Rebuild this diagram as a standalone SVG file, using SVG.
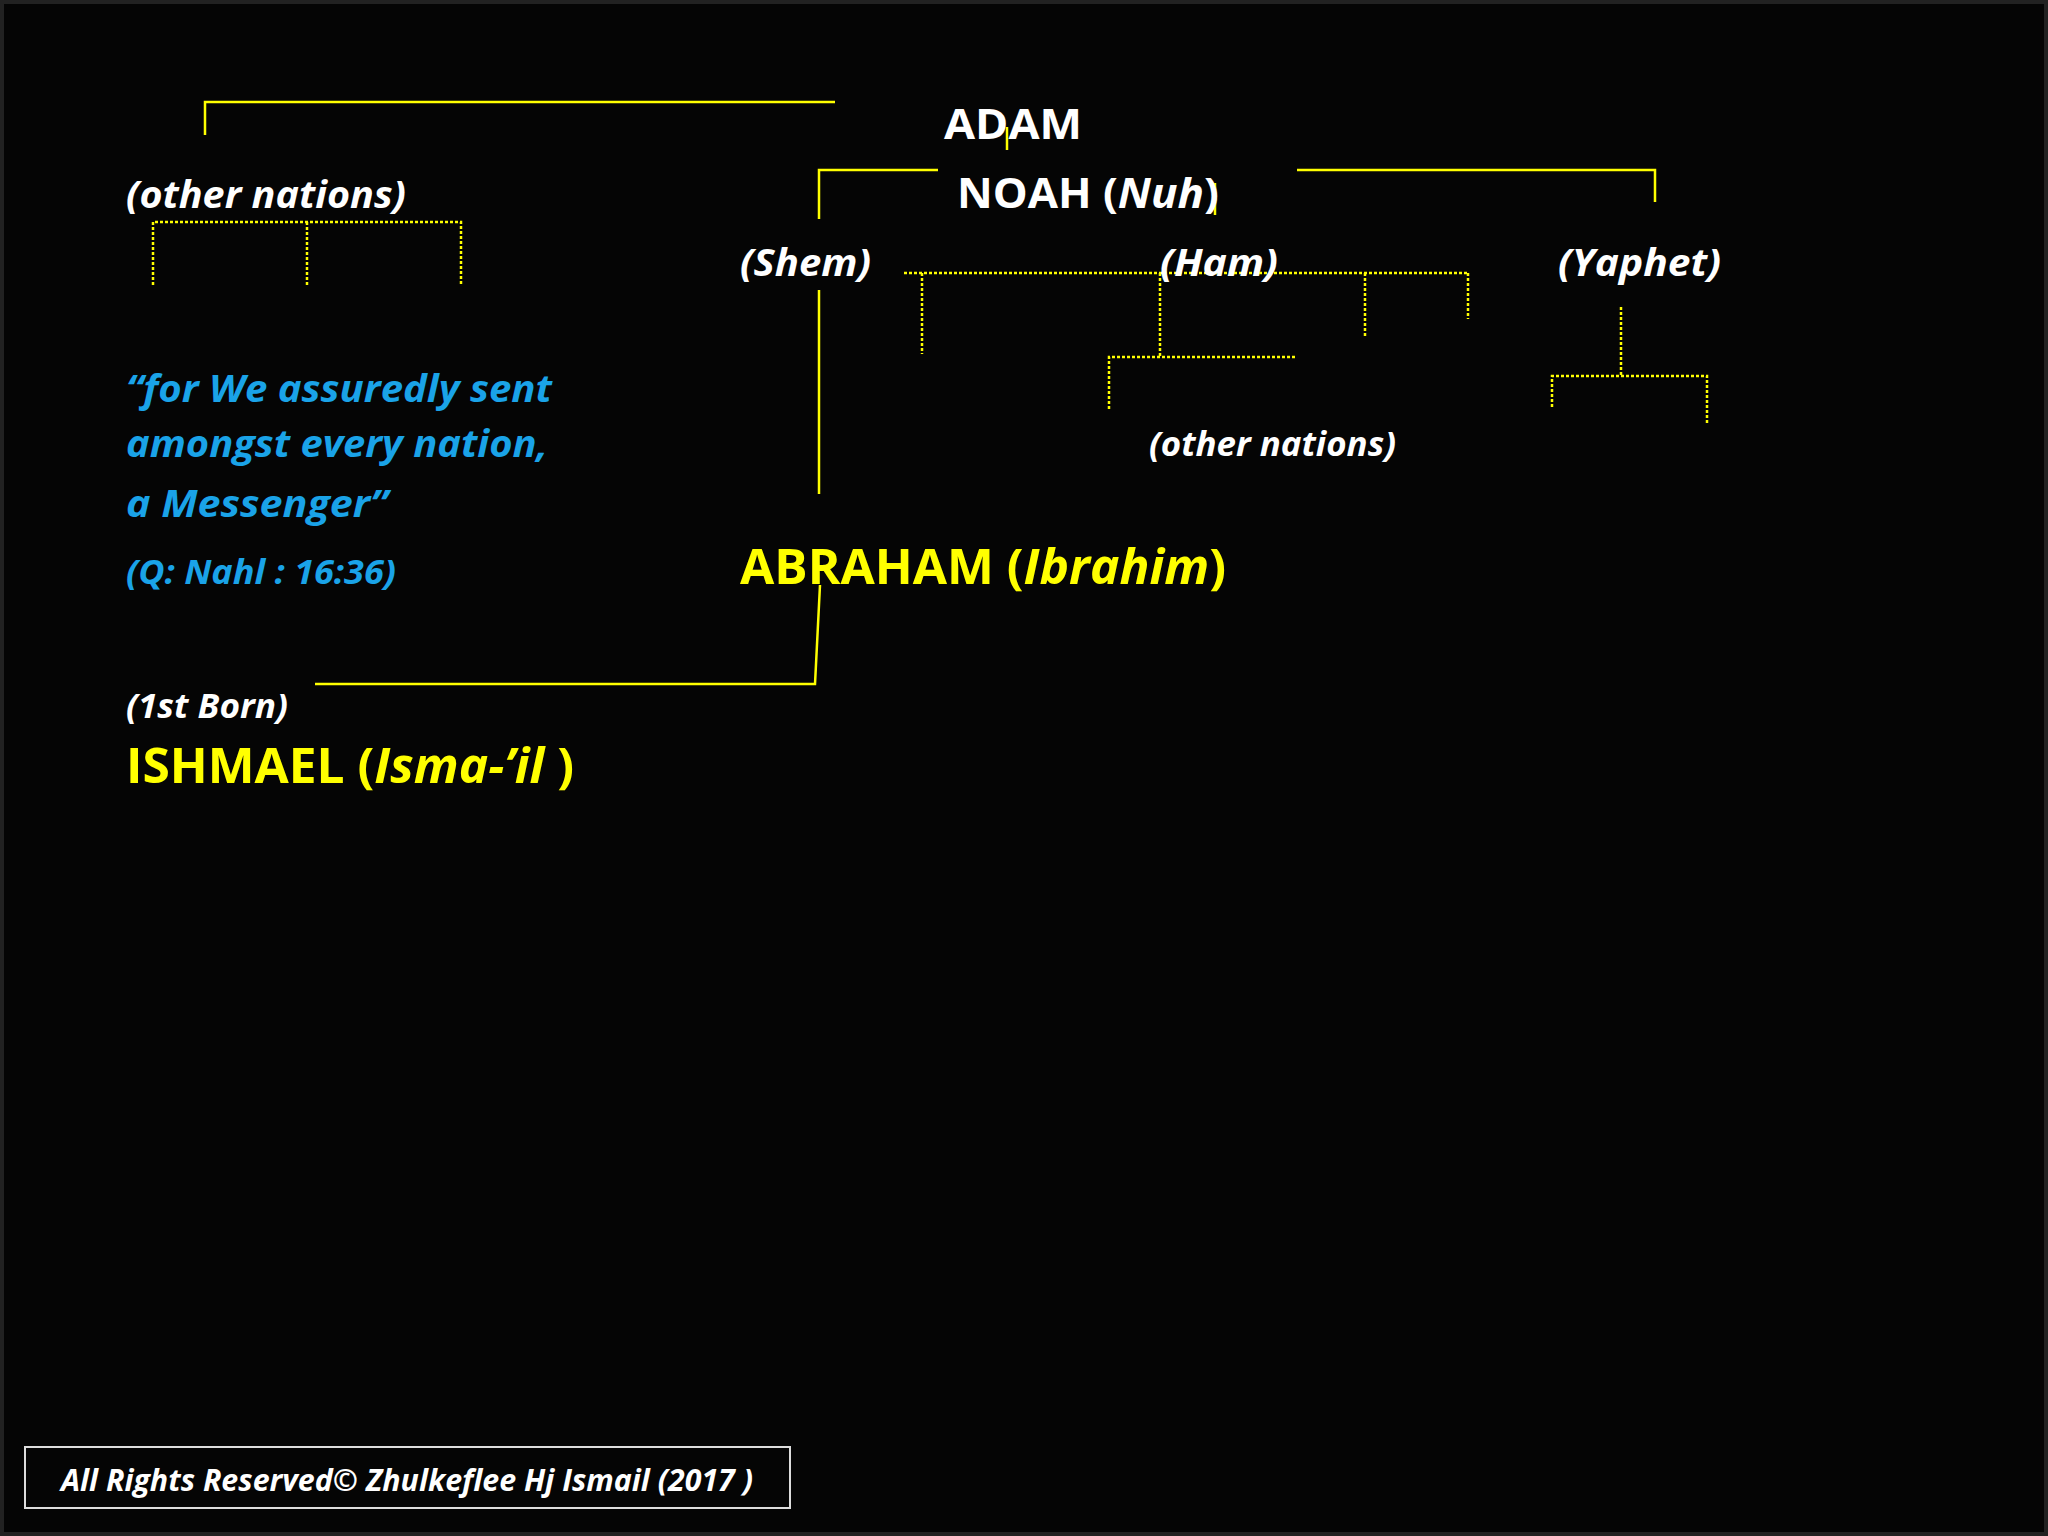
<svg xmlns="http://www.w3.org/2000/svg" width="2048" height="1536" viewBox="0 0 2048 1536">
<style>
text{font-family:"Open Sans",Lato,"Liberation Sans",sans-serif;font-weight:bold}
.w{fill:#fff}.y{fill:#ffff00}.b{fill:#1aa3e8;font-style:italic}
.i{font-style:italic}
.s{stroke:#ffff00;stroke-width:2.5;fill:none}
.d{stroke:#ffff00;stroke-width:2.5;fill:none;stroke-dasharray:3 2}
</style>
<rect width="2048" height="1536" fill="#050505"/>
<rect x="2" y="2" width="2044" height="1532" fill="none" stroke="#222" stroke-width="4"/>
<g id="connectors">
<polyline class="s" points="205,135 205,102 835,102"/>
<line class="s" x1="1007" y1="127" x2="1007" y2="150"/>
<polyline class="s" points="819,219 819,170 938,170"/>
<polyline class="s" points="1297,170 1655,170 1655,202"/>
<line class="s" x1="1215" y1="183" x2="1215" y2="215"/>
<polyline class="d" points="153,285 153,222 461,222 461,285"/>
<line class="d" x1="307" y1="222" x2="307" y2="285"/>
<line class="d" x1="904" y1="273" x2="1468" y2="273"/>
<line class="d" x1="922" y1="273" x2="922" y2="354"/>
<line class="d" x1="1365" y1="273" x2="1365" y2="337"/>
<line class="d" x1="1468" y1="273" x2="1468" y2="319"/>
<line class="d" x1="1160" y1="273" x2="1160" y2="357"/>
<polyline class="d" points="1109,409 1109,357 1297,357"/>
<line class="d" x1="1621" y1="307" x2="1621" y2="376"/>
<polyline class="d" points="1552,407 1552,376 1707,376 1707,423"/>
<line class="s" x1="819" y1="290" x2="819" y2="494"/>
<polyline class="s" points="820,585 815,684 315,684" stroke-width="3"/>
</g>
<g id="adam"><text class="w" x="944" y="139" font-size="42" textLength="138" lengthAdjust="spacingAndGlyphs">ADAM</text></g>
<g id="noah"><text class="w" x="957" y="208" font-size="42" textLength="262" lengthAdjust="spacingAndGlyphs">NOAH (<tspan class="i">Nuh</tspan>)</text></g>
<g id="other1"><text class="w i" x="126" y="208" font-size="38" textLength="280" lengthAdjust="spacingAndGlyphs">(other nations)</text></g>
<g id="shem"><text class="w i" x="740" y="276" font-size="38" textLength="131" lengthAdjust="spacingAndGlyphs">(Shem)</text></g>
<g id="ham"><text class="w i" x="1160" y="276" font-size="38" textLength="118" lengthAdjust="spacingAndGlyphs">(Ham)</text></g>
<g id="yaphet"><text class="w i" x="1558" y="276" font-size="38" textLength="163" lengthAdjust="spacingAndGlyphs">(Yaphet)</text></g>
<g id="other2"><text class="w i" x="1149" y="456" font-size="34" textLength="247" lengthAdjust="spacingAndGlyphs">(other nations)</text></g>
<g id="quote">
<text class="b" x="126" y="402" font-size="38" textLength="426" lengthAdjust="spacingAndGlyphs">“for We assuredly sent</text>
<text class="b" x="126" y="457" font-size="38" textLength="422" lengthAdjust="spacingAndGlyphs">amongst every nation,</text>
<text class="b" x="126" y="517" font-size="38" textLength="262" lengthAdjust="spacingAndGlyphs">a Messenger”</text>
<text class="b" x="126" y="584" font-size="34" textLength="270" lengthAdjust="spacingAndGlyphs">(Q: Nahl : 16:36)</text>
</g>
<g id="abraham"><text class="y" x="740" y="584" font-size="48" textLength="486" lengthAdjust="spacingAndGlyphs">ABRAHAM (<tspan class="i">Ibrahim</tspan>)</text></g>
<g id="firstborn"><text class="w i" x="126" y="718" font-size="34" textLength="162" lengthAdjust="spacingAndGlyphs">(1st Born)</text></g>
<g id="ishmael"><text class="y" x="126" y="783" font-size="48" textLength="448" lengthAdjust="spacingAndGlyphs">ISHMAEL (<tspan class="i">Isma-’il </tspan>)</text></g>
<g id="copyright">
<rect x="25" y="1447" width="765" height="61" fill="none" stroke="#ddd" stroke-width="2"/>
<text class="w i" x="61" y="1491" font-size="30" textLength="692" lengthAdjust="spacingAndGlyphs">All Rights Reserved© Zhulkeflee Hj Ismail (2017 )</text>
</g>
</svg>
